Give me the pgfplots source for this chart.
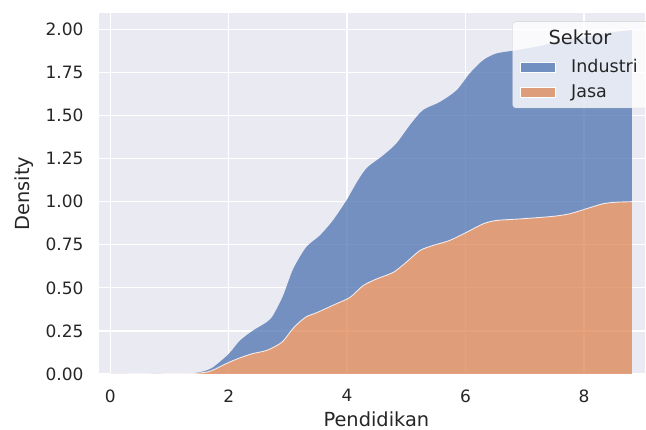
\documentclass[border=0pt]{standalone}
\usepackage{fontspec}
\setmainfont{DejaVu Sans}
\usepackage{pgfplots}
\pgfplotsset{compat=1.18}
\usepgfplotslibrary{fillbetween}
\definecolor{bgc}{HTML}{EAEAF2}
\definecolor{sblue}{HTML}{4C72B0}
\definecolor{sorange}{HTML}{DD8452}
\definecolor{txt}{HTML}{262626}

\pgfplotstableread{
x y
0 0
0.5 0.0005
1.0 0.002
1.3 0.003
1.5 0.005
1.7 0.018
2.0 0.067
2.2 0.095
2.4 0.118
2.65 0.138
2.9 0.185
3.1 0.27
3.3 0.33
3.5 0.358
3.8 0.405
4.05 0.445
4.27 0.513
4.5 0.552
4.78 0.59
5.0 0.649
5.23 0.717
5.45 0.746
5.73 0.775
6.02 0.823
6.3 0.872
6.52 0.891
6.92 0.900
7.48 0.915
7.76 0.930
8.04 0.959
8.32 0.988
8.55 0.997
8.81 1.000
}\jasa

\pgfplotstableread{
x y
0 0
0.5 0.0006
1.0 0.003
1.3 0.004
1.45 0.007
1.6 0.018
1.74 0.040
2.0 0.116
2.19 0.194
2.41 0.252
2.64 0.300
2.75 0.340
2.92 0.455
3.09 0.610
3.31 0.736
3.54 0.804
3.76 0.891
3.99 1.008
4.16 1.110
4.33 1.195
4.61 1.269
4.83 1.337
5.06 1.444
5.28 1.531
5.57 1.579
5.85 1.647
6.07 1.744
6.30 1.822
6.52 1.860
6.80 1.876
7.20 1.900
7.60 1.930
8.00 1.955
8.40 1.980
8.81 1.996
}\total

\begin{document}
\begin{tikzpicture}
\begin{axis}[
  at={(0,0)}, anchor=south west,
  scale only axis, width=546pt, height=361pt,
  xmin=-0.19, xmax=9.03, ymin=0, ymax=2.095,
  axis background/.style={fill=bgc},
  axis line style={draw=none},
  grid=major,
  major grid style={white, line width=1.3pt},
  major tick length=0pt,
  xtick={0,2,4,6,8},
  ytick={0,0.25,0.5,0.75,1,1.25,1.5,1.75,2},
  /pgf/number format/assume math mode=true,
  tick label style={font=\fontsize{17}{20}\selectfont, text=txt},
  yticklabel style={/pgf/number format/.cd, fixed, fixed zerofill, precision=2, /tikz/.cd, xshift=-12pt},
  xticklabel style={yshift=-12pt},
  xlabel={Pendidikan},
  ylabel={Density},
  xlabel style={at={(axis description cs:0.508,-0.146)}, anchor=base, font=\fontsize{19.4}{22}\selectfont, text=txt},
  ylabel style={at={(axis description cs:-0.137,0.5)}, anchor=center, font=\fontsize{19.4}{22}\selectfont, text=txt},
]
\addplot[name path=tot, draw=none, smooth, tension=0.45] table {\total};
\addplot[name path=ja, draw=none, smooth, tension=0.45] table {\jasa};
\addplot[draw=none, fill=sorange, fill opacity=0.75] table {\jasa} \closedcycle;
\addplot[draw=none, fill=sblue, fill opacity=0.75] fill between[of=tot and ja];
\addplot[white, line width=0.9pt, opacity=0.8, smooth, tension=0.45] table {\jasa};
\end{axis}
% legend
\draw[rounded corners=3pt, draw=black!20, fill=white, fill opacity=0.8, draw opacity=0.8] (413.7pt,266pt) rectangle (565pt,352.3pt);
\node[anchor=base, font=\fontsize{19.4}{22}\selectfont, text=txt, inner sep=0pt] at (481pt,329pt) {Sektor};
\filldraw[fill=sblue, fill opacity=0.75, draw=white, line width=0.8pt] (421pt,302pt) rectangle (456pt,312pt);
\filldraw[fill=sorange, fill opacity=0.75, draw=white, line width=0.8pt] (421pt,277pt) rectangle (456pt,287pt);
\node[anchor=base west, font=\fontsize{17.5}{20}\selectfont, text=txt, inner sep=0pt] at (472pt,301pt) {Industri};
\node[anchor=base west, font=\fontsize{17.5}{20}\selectfont, text=txt, inner sep=0pt] at (472pt,276pt) {Jasa};
\pgfresetboundingbox
\useasboundingbox (-99pt,-56pt) rectangle (547pt,374pt);
\end{tikzpicture}
\end{document}
